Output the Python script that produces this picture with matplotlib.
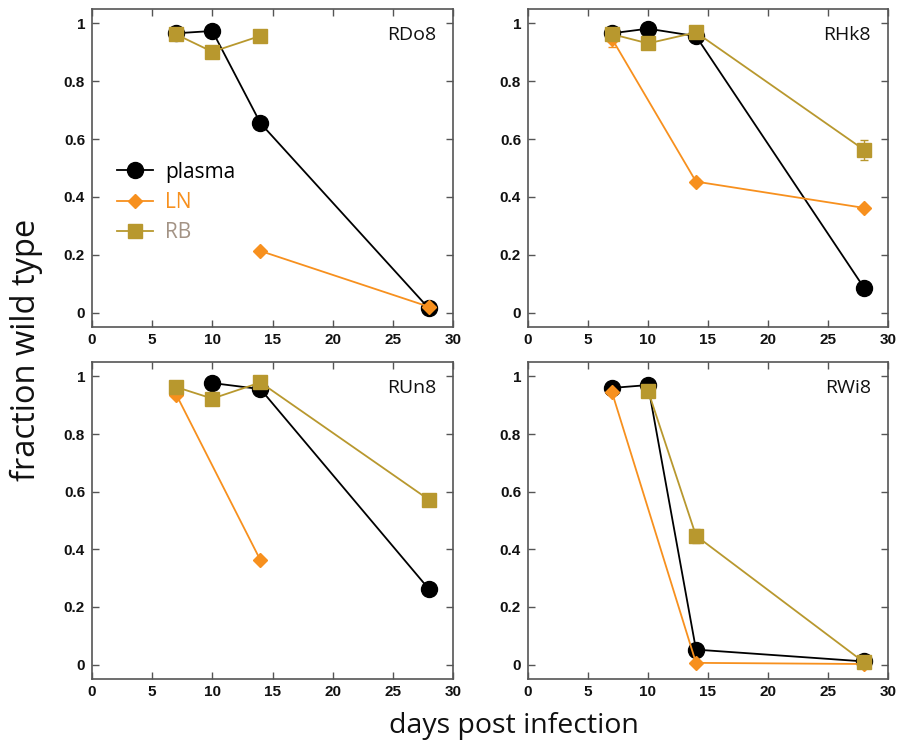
import numpy as np
import matplotlib
matplotlib.use("Agg")
import matplotlib.pyplot as plt

days = [7, 10, 14, 28]
animals = ["RDo8", "RHk8", "RUn8", "RWi8"]
nan = np.nan

plasma = {
    "RDo8": [0.966, 0.974, 0.655, 0.014],
    "RHk8": [0.966, 0.982, 0.956, 0.086],
    "RUn8": [nan, 0.977, 0.956, 0.262],
    "RWi8": [0.960, 0.970, 0.052, 0.011],
}
ln = {
    "RDo8": [nan, nan, 0.213, 0.020],
    "RHk8": [0.947, nan, 0.453, 0.362],
    "RUn8": [0.937, nan, 0.362, nan],
    "RWi8": [0.945, nan, 0.006, 0.002],
}
ln_err = {
    "RDo8": [0, 0, 0, 0],
    "RHk8": [0.03, 0, 0.01, 0],
    "RUn8": [0, 0, 0, 0],
    "RWi8": [0, 0, 0, 0],
}
rb = {
    "RDo8": [0.962, 0.902, 0.957, nan],
    "RHk8": [0.963, 0.931, 0.969, 0.563],
    "RUn8": [0.963, 0.923, 0.979, 0.572],
    "RWi8": [nan, 0.951, 0.447, 0.008],
}
rb_err = {
    "RDo8": [0, 0, 0.02, 0],
    "RHk8": [0, 0, 0, 0.035],
    "RUn8": [0, 0, 0, 0.02],
    "RWi8": [0, 0, 0.025, 0],
}

xticks = [0, 5, 10, 15, 20, 25, 30]
yticks = [0, 0.2, 0.4, 0.6, 0.8, 1.0]
yticklabels = ["0", "0.2", "0.4", "0.6", "0.8", "1"]

C_PLASMA = "#000000"
C_LN = "#F7901E"
C_RB = "#B8982E"
C_RB_TEXT = "#A39385"
FRAME = "#555555"

fig = plt.figure(figsize=(8.99, 7.44), dpi=100)
W, H = 899, 744
boxes = {
    "RDo8": (92, 9, 453, 327),
    "RHk8": (528, 9, 888, 327),
    "RUn8": (92, 362, 453, 679),
    "RWi8": (528, 362, 888, 679),
}

tick_font = dict(family="Liberation Sans", weight="bold", size=11)


def plot_series(ax, vals, errs, color, marker, ms, label, z):
    x = np.array(days, dtype=float)
    y = np.array(vals, dtype=float)
    m = ~np.isnan(y)
    e = np.array(errs, dtype=float)[m] if errs is not None else None
    if e is not None and np.any(e > 0):
        ax.errorbar(x[m], y[m], yerr=e, fmt="none", ecolor=color,
                    elinewidth=1.0, capsize=3, capthick=1.0, zorder=z)
    ax.plot(x[m], y[m], color=color, marker=marker, ms=ms, lw=1.3,
            mec=color, mfc=color, label=label, zorder=z + 0.5)


for name in animals:
    l, t, r, b = boxes[name]
    ax = fig.add_axes([l / W, 1 - b / H, (r - l) / W, (b - t) / H])
    plot_series(ax, plasma[name], None, C_PLASMA, "o", 11.5, "plasma", 3)
    plot_series(ax, ln[name], ln_err[name], C_LN, "D", 7.5, "LN", 4)
    plot_series(ax, rb[name], rb_err[name], C_RB, "s", 10, "RB", 5)
    ax.set_xlim(0, 30)
    ax.set_ylim(-0.05, 1.05)
    ax.set_xticks(xticks)
    ax.set_xticklabels([str(v) for v in xticks], **tick_font)
    ax.set_yticks(yticks)
    ax.set_yticklabels(yticklabels, **tick_font)
    ax.tick_params(direction="in", length=5, width=1, color=FRAME,
                   top=True, right=True, labelcolor="#111111")
    ax.tick_params(axis="x", pad=4.5)
    ax.tick_params(axis="y", pad=5)
    for s in ax.spines.values():
        s.set_color(FRAME)
        s.set_linewidth(1.2)
    ax.text(0.953, 0.918, name, transform=ax.transAxes, ha="right",
            va="center", fontsize=14, family="Open Sans", color="#111111")
    if name == "RDo8":
        leg = ax.legend(loc="upper left", bbox_to_anchor=(0.07, 0.52),
                        frameon=False, handlelength=1.73,
                        handletextpad=0.58, labelspacing=0.45,
                        borderpad=0, borderaxespad=0, numpoints=1,
                        prop=dict(family="Open Sans", size=15))
        for txt, c in zip(leg.get_texts(), [C_PLASMA, C_LN, C_RB_TEXT]):
            txt.set_color(c)

fig.text(514 / W, 1 - 726 / H, "days post infection", ha="center",
         va="center", fontsize=20.5, family="Open Sans", color="#111111")
fig.text(26 / W, 1 - 350 / H, "fraction wild type", ha="center",
         va="center", rotation=90, fontsize=23.5, family="Open Sans",
         color="#111111")

fig.savefig("out.png", dpi=100)
